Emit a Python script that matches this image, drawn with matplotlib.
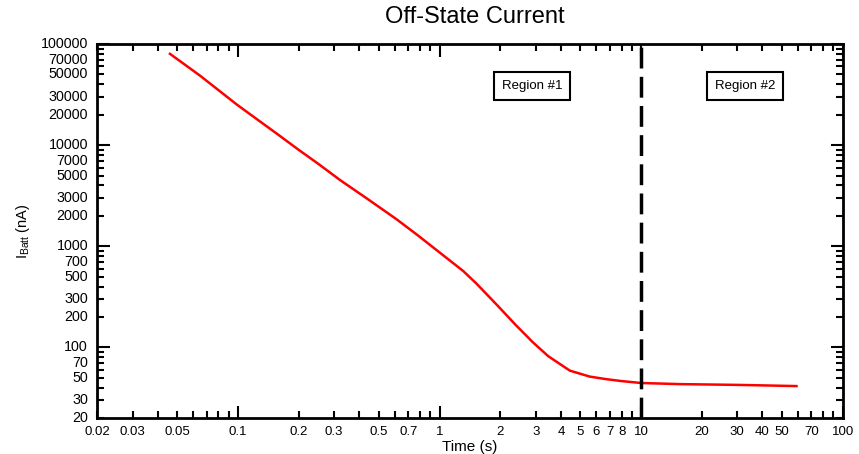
import numpy as np
import matplotlib.pyplot as plt
from matplotlib.ticker import FixedLocator, NullFormatter

plt.rcParams['font.family'] = ['Liberation Sans', 'DejaVu Sans']

# values
time_s = [0.046, 0.065, 0.099, 0.13, 0.155, 0.2, 0.25, 0.32, 0.435, 0.61, 0.77, 1.0,
          1.31, 1.53, 1.92, 2.4, 2.91, 3.46, 4.43, 5.56, 6.75, 8.0, 10.0, 15.5, 30.8, 59.0]
i_batt = [80000, 48500, 25100, 16900, 13100, 9000, 6550, 4540, 2980, 1860, 1310, 870,
          570, 425, 265, 165, 112, 82, 59, 51.5, 48.5, 46.5, 44.5, 43.4, 42.6, 41.5]

x_labels = [0.02, 0.03, 0.05, 0.1, 0.2, 0.3, 0.5, 0.7, 1, 2, 3, 4, 5, 6, 7, 8, 10,
            20, 30, 40, 50, 70, 100]
y_labels = [20, 30, 50, 70, 100, 200, 300, 500, 700, 1000, 2000, 3000, 5000, 7000,
            10000, 20000, 30000, 50000, 70000, 100000]

fig = plt.figure(figsize=(8.59, 4.54), dpi=100)
ax = fig.add_axes([0.113, 0.079, 0.868, 0.824])

ax.plot(time_s, i_batt, color='red', linewidth=1.8)
ax.axvline(10, color='black', linewidth=2.5, dashes=(6, 2.4))

ax.set_xscale('log')
ax.set_yscale('log')
ax.set_xlim(0.02, 100)
ax.set_ylim(20, 100000)

ax.xaxis.set_major_locator(FixedLocator([0.1, 1, 10, 100]))
ax.xaxis.set_minor_locator(FixedLocator([m * 10.0**e for e in range(-2, 2) for m in range(2, 10)]))
ax.xaxis.set_major_formatter(NullFormatter())
ax.xaxis.set_minor_formatter(NullFormatter())
ax.yaxis.set_major_locator(FixedLocator([100, 1000, 10000, 100000]))
ax.yaxis.set_minor_locator(FixedLocator([m * 10.0**e for e in range(1, 5) for m in range(2, 10)]))
ax.yaxis.set_major_formatter(NullFormatter())
ax.yaxis.set_minor_formatter(NullFormatter())

ax.tick_params(which='both', direction='in', top=True, right=True, width=1.5, colors='black')
ax.tick_params(which='major', length=9)
ax.tick_params(which='minor', length=5)

for v in x_labels:
    ax.text(v, -0.02, ('%g' % v), transform=ax.get_xaxis_transform(),
            ha='center', va='top', fontsize=9.5)
for v in y_labels:
    ax.text(-0.012, v, ('%d' % v), transform=ax.get_yaxis_transform(),
            ha='right', va='center', fontsize=10.3)

for s in ax.spines.values():
    s.set_linewidth(2)

fig.text(0.553, 0.962, 'Off-State Current', fontsize=17, ha='center', va='center')
ax.set_xlabel('Time (s)', fontsize=11, labelpad=12)
ax.set_ylabel(r'I$_{\mathregular{Batt}}$ (nA)', fontsize=10.5, labelpad=43)

box = dict(boxstyle='square,pad=0.6', facecolor='white', edgecolor='black', linewidth=1.5)
ax.text(2.87, 38700, 'Region #1', ha='center', va='center', fontsize=9.5, bbox=box)
ax.text(32.7, 38700, 'Region #2', ha='center', va='center', fontsize=9.5, bbox=box)

fig.savefig('out.png', dpi=100)
